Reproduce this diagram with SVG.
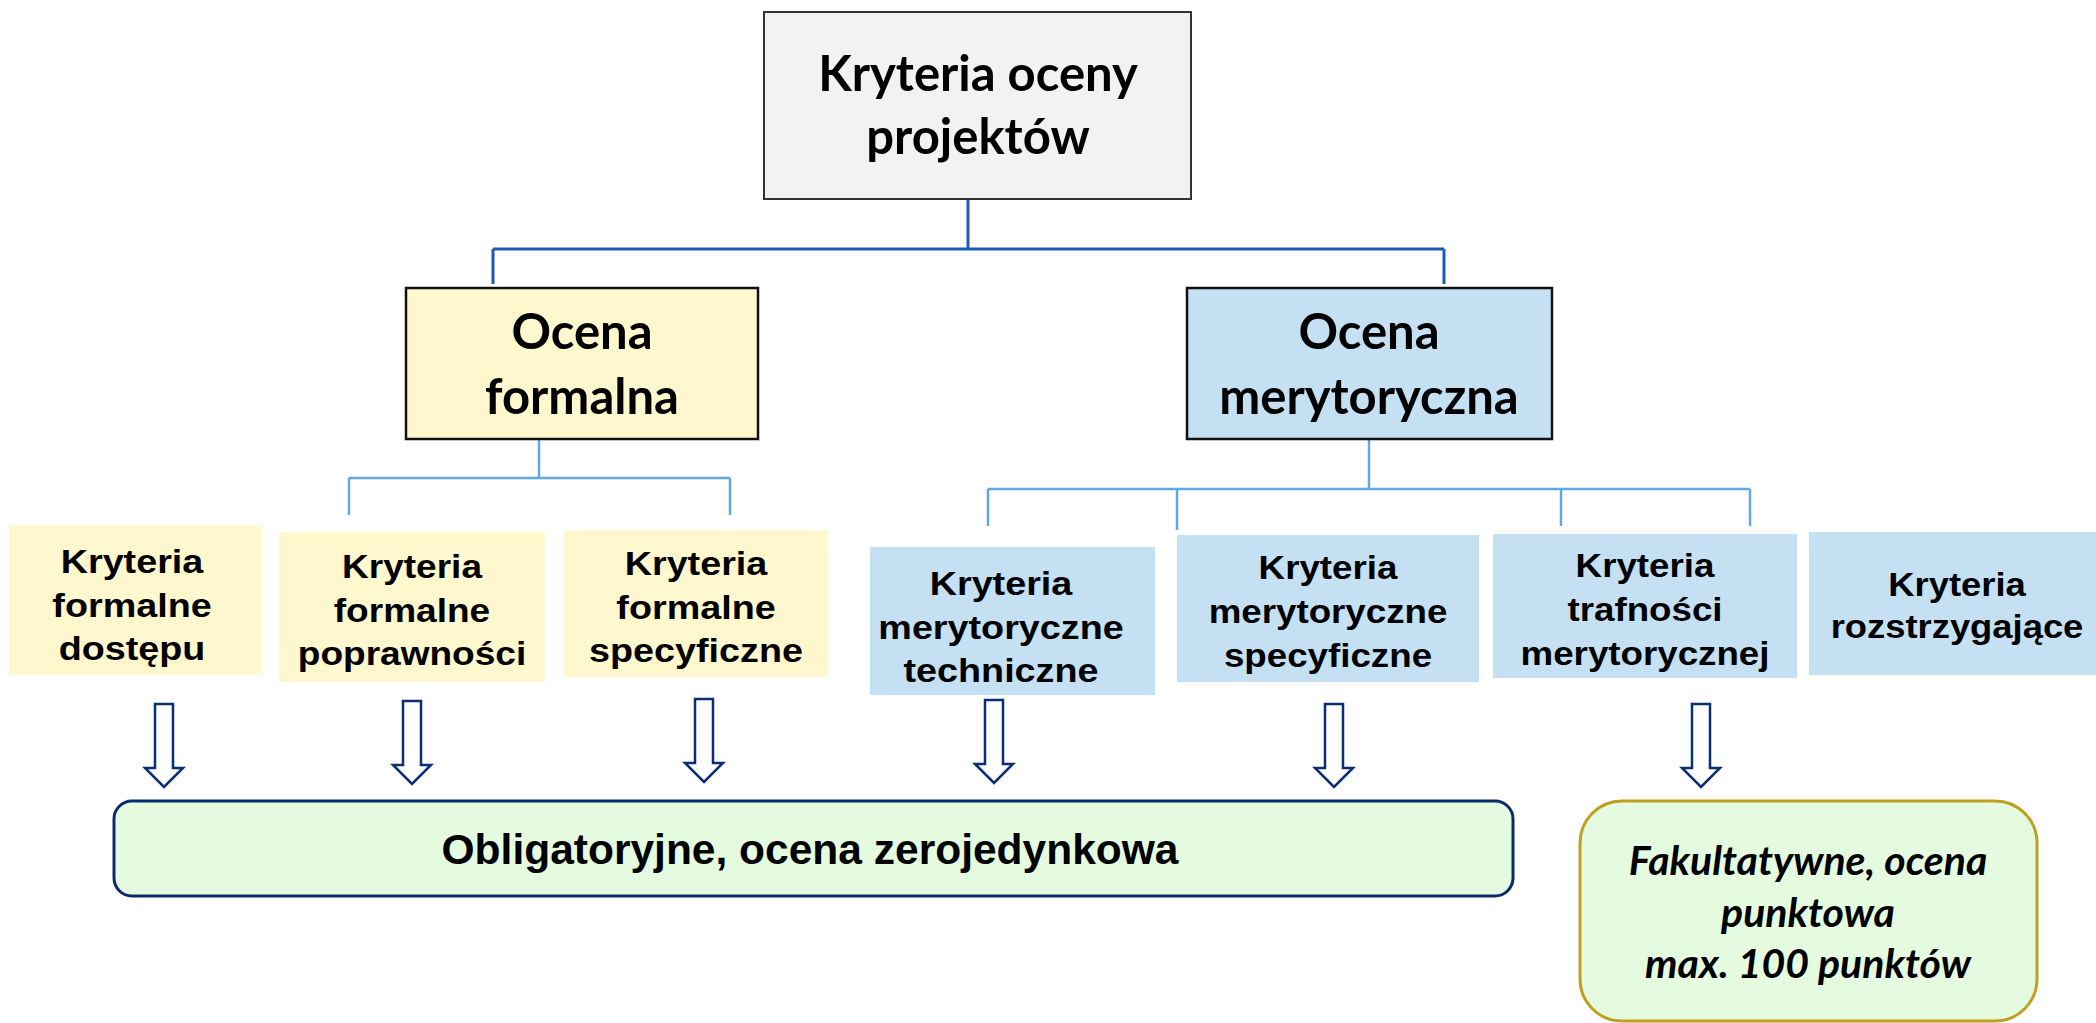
<svg xmlns="http://www.w3.org/2000/svg" xmlns:xlink="http://www.w3.org/1999/xlink" width="2096" height="1023" viewBox="0 0 2096 1023">
<style>
.cal{font-family:Lato,"Open Sans","Noto Sans",sans-serif;font-weight:bold;fill:#000;text-anchor:middle}
.ar{font-family:"Liberation Sans",Arial,sans-serif;font-weight:bold;fill:#000;text-anchor:middle}
.big{font-size:49px}
.sm{font-size:34px}
.yel{fill:#fff8cf}
.blu{fill:#c5e0f3}
.main{stroke:#111;stroke-width:2.5}
.c1{fill:none;stroke:#1c5cb8;stroke-width:3}
.c2{fill:none;stroke:#62a8e0;stroke-width:2.5}
.arrow{fill:#fff;stroke:#0b2d73;stroke-width:2.5;stroke-linejoin:miter}
</style>
<defs>
<path id="arr" d="M-9,0 H9 V64 H19 L0,83 L-19,64 H-9 Z"/>
</defs>
<rect width="2096" height="1023" fill="#fff"/>

<g id="connectors">
<path class="c1" d="M968,199 V249 M493,249 H1444 M493,249 V284 M1444,249 V284"/>
<path class="c2" d="M539,433 V478 M349,478 H730 M349,478 V515 M730,478 V515"/>
<path class="c2" d="M1369,439 V489 M988,489 H1750 M988,489 V526 M1177,489 V530 M1561,489 V526 M1750,489 V526"/>
<g class="arrow">
<use xlink:href="#arr" transform="translate(164,704)"/>
<use xlink:href="#arr" transform="translate(412,701)"/>
<use xlink:href="#arr" transform="translate(704,699)"/>
<use xlink:href="#arr" transform="translate(994,700)"/>
<use xlink:href="#arr" transform="translate(1334,704)"/>
<use xlink:href="#arr" transform="translate(1701,704)"/>
</g>
</g>

<g id="root">
<rect x="764" y="12" width="427" height="187" fill="#f2f2f2" stroke="#333" stroke-width="2"/>
<text class="cal big" x="978" y="91">Kryteria oceny</text>
<text class="cal big" x="978" y="154">projektów</text>
</g>

<g id="ocena-formalna">
<rect class="yel main" x="406" y="288" width="352" height="151"/>
<text class="cal big" x="582" y="349">Ocena</text>
<text class="cal big" x="582" y="414">formalna</text>
</g>

<g id="ocena-merytoryczna">
<rect class="blu main" x="1187" y="288" width="365" height="151"/>
<text class="cal big" x="1369" y="349">Ocena</text>
<text class="cal big" x="1369" y="414">merytoryczna</text>
</g>

<g id="kf-dostepu">
<rect class="yel" x="9" y="525" width="253" height="150"/>
<text class="ar sm" transform="translate(132,0) scale(1.11,1)"><tspan x="0" y="573">Kryteria</tspan><tspan x="0" y="617">formalne</tspan><tspan x="0" y="660">dostępu</tspan></text>
</g>

<g id="kf-poprawnosci">
<rect class="yel" x="279" y="532" width="266" height="150"/>
<text class="ar sm" transform="translate(412,0) scale(1.09,1)"><tspan x="0" y="578">Kryteria</tspan><tspan x="0" y="622">formalne</tspan><tspan x="0" y="665">poprawności</tspan></text>
</g>

<g id="kf-specyficzne">
<rect class="yel" x="564" y="530" width="264" height="147"/>
<text class="ar sm" transform="translate(696,0) scale(1.11,1)"><tspan x="0" y="575">Kryteria</tspan><tspan x="0" y="619">formalne</tspan><tspan x="0" y="662">specyficzne</tspan></text>
</g>

<g id="km-techniczne">
<rect class="blu" x="870" y="547" width="285" height="148"/>
<text class="ar sm" transform="translate(1001,0) scale(1.11,1)"><tspan x="0" y="595">Kryteria</tspan><tspan x="0" y="639">merytoryczne</tspan><tspan x="0" y="682">techniczne</tspan></text>
</g>

<g id="km-specyficzne">
<rect class="blu" x="1177" y="535" width="302" height="147"/>
<text class="ar sm" transform="translate(1328,0) scale(1.08,1)"><tspan x="0" y="579">Kryteria</tspan><tspan x="0" y="623">merytoryczne</tspan><tspan x="0" y="667">specyficzne</tspan></text>
</g>

<g id="k-trafnosci">
<rect class="blu" x="1493" y="534" width="304" height="144"/>
<text class="ar sm" transform="translate(1645,0) scale(1.08,1)"><tspan x="0" y="577">Kryteria</tspan><tspan x="0" y="621">trafności</tspan><tspan x="0" y="665">merytorycznej</tspan></text>
</g>

<g id="k-rozstrzygajace">
<rect class="blu" x="1809" y="532" width="300" height="143"/>
<text class="ar sm" transform="translate(1957,0) scale(1.07,1)"><tspan x="0" y="596">Kryteria</tspan><tspan x="0" y="638">rozstrzygające</tspan></text>
</g>

<g id="obligatoryjne">
<rect x="114" y="801" width="1399" height="95" rx="18" ry="18" fill="#e4fbe0" stroke="#0c2a6e" stroke-width="3"/>
<text class="ar" style="font-size:42.5px" x="810" y="864">Obligatoryjne, ocena zerojedynkowa</text>
</g>

<g id="fakultatywne">
<rect x="1580" y="801" width="457" height="220" rx="42" ry="42" fill="#e4fbe0" stroke="#bf9f1f" stroke-width="3"/>
<text class="cal" style="font-size:41px;font-style:italic"><tspan x="1808" y="875">Fakultatywne, ocena</tspan><tspan x="1808" y="927">punktowa</tspan><tspan x="1808" y="978">max. 100 punktów</tspan></text>
</g>
</svg>
